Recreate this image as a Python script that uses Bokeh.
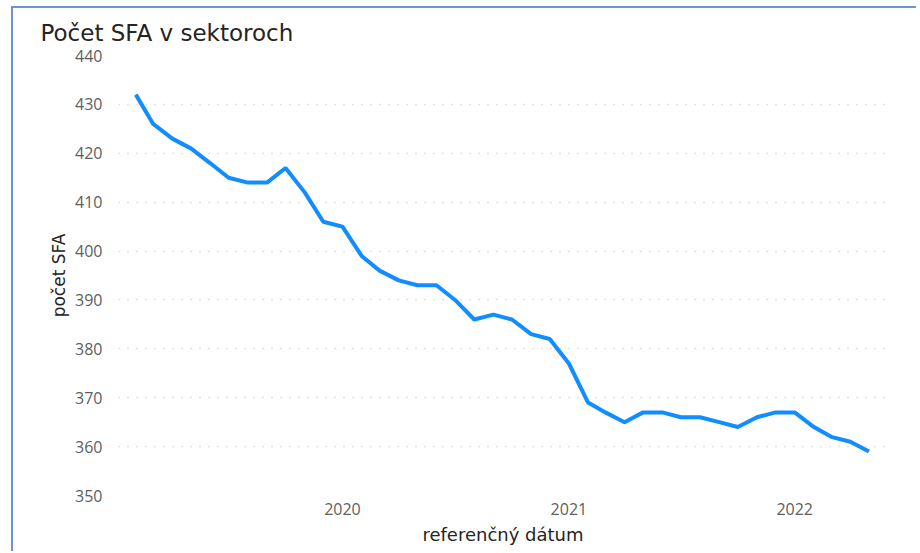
import datetime as dt
from bokeh.plotting import figure
from bokeh.models import FixedTicker, DatetimeTickFormatter, Range1d, ColumnDataSource
from bokeh.embed import file_html
from bokeh.resources import INLINE

# Monthly data, Feb 2019 - May 2022
start_year = 2019
start_month = 2
values = [432, 426, 423, 421, 418, 415, 414, 414, 417, 412, 406,
          405, 399, 396, 394, 393, 393, 390, 386, 387, 386, 383, 382,
          377, 369, 367, 365, 367, 367, 366, 366, 365, 364, 366, 367,
          367, 364, 362, 361, 359]
year_ticks = [2020, 2021, 2022]
y_ticks = [350, 360, 370, 380, 390, 400, 410, 420, 430, 440]

dates = []
y, m = start_year, start_month
for _ in values:
    dates.append(dt.datetime(y, m, 1))
    m += 1
    if m > 12:
        m, y = 1, y + 1

src = ColumnDataSource(dict(x=dates, y=values))

FONT = "Open Sans"
LFONT = "DejaVu Sans"

p = figure(width=905, height=545, x_axis_type="datetime",
           output_backend="svg", toolbar_location=None,
           x_range=Range1d(dt.datetime(2019, 1, 4), dt.datetime(2022, 5, 31)),
           y_range=Range1d(350, 440),
           min_border_left=105, min_border_right=31, min_border_top=47, min_border_bottom=58)

p.line("x", "y", source=src, line_color="#118DFF", line_width=4)

p.title.text = "Počet SFA v sektoroch"
p.title.text_font = LFONT
p.title.text_font_size = "23px"
p.title.text_font_style = "normal"
p.title.text_color = "#252423"
p.title.align = "left"
p.title.offset = -78
p.title.standoff = 19

p.xaxis.ticker = FixedTicker(ticks=[dt.datetime(yy, 1, 1).timestamp() * 1000 for yy in year_ticks])
p.xaxis.formatter = DatetimeTickFormatter(years="%Y", months="%Y", days="%Y")
p.yaxis.ticker = FixedTicker(ticks=y_ticks)

for ax in (p.xaxis[0], p.yaxis[0]):
    ax.axis_line_color = None
    ax.major_tick_line_color = None
    ax.minor_tick_line_color = None
    ax.major_label_text_font = FONT
    ax.major_label_text_font_size = "16px"
    ax.major_label_text_color = "#605E5C"
    ax.axis_label_text_font = LFONT
    ax.axis_label_text_font_style = "normal"
    ax.axis_label_text_color = "#252423"

p.xaxis.axis_label = "referenčný dátum"
p.yaxis.axis_label = "počet SFA"
p.xaxis.axis_label_text_font_size = "18px"
p.yaxis.axis_label_text_font_size = "17px"
p.xaxis.major_label_standoff = 1
p.xaxis.axis_label_standoff = 6
p.yaxis.major_label_standoff = 10
p.yaxis.axis_label_standoff = 3

p.xgrid.grid_line_color = None
p.ygrid.grid_line_color = "#C8C6C4"
p.ygrid.grid_line_dash = "1 8"
p.ygrid.grid_line_width = 1.5

p.outline_line_color = None
p.styles = {"border-top": "2px solid #7193D3", "border-left": "2px solid #7193D3",
            "margin-left": "11px", "margin-top": "6px"}

open("out.html", "w").write(file_html(p, INLINE))
